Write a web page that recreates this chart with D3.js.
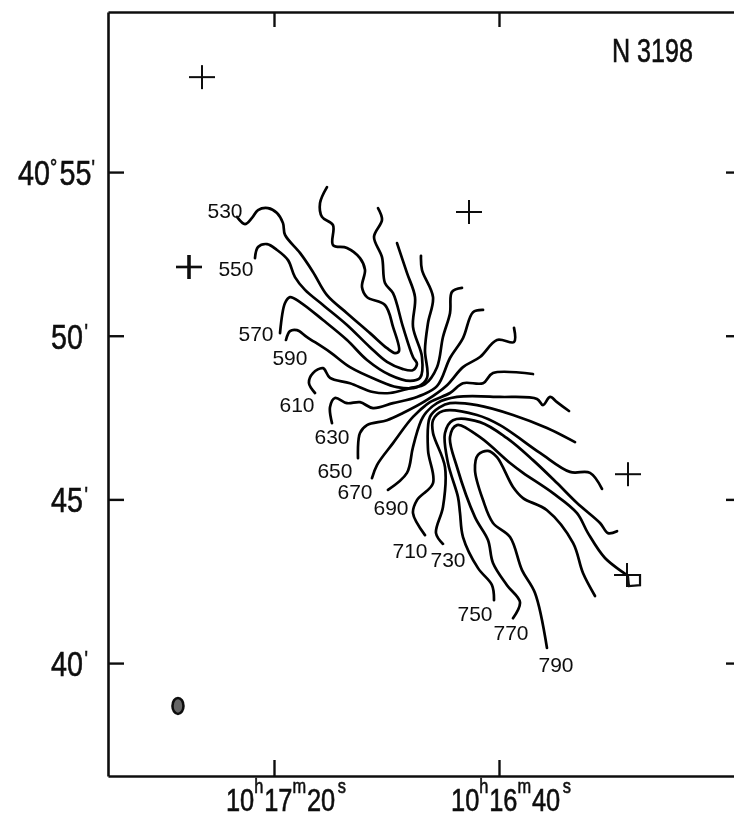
<!DOCTYPE html>
<html>
<head>
<meta charset="utf-8">
<script src="https://d3js.org/d3.v7.min.js"></script>
<style>
  html, body { margin: 0; background: #fff; }
  svg { display: block; }
  text { fill: #111; font-family: "Liberation Sans", sans-serif; }
  .level { font-size: 21px; }
</style>
</head>
<body>
<script>
// Each contour is a list of [RA seconds after 10h16m, Dec arcmin after 40 deg]
var contour530 = [[86.58,53.63],[85.16,53.41],[83.91,53.60],[82.84,53.84],[81.07,53.90],[79.47,53.75],[78.40,53.44],[78.04,53.08],[75.38,52.53],[73.07,51.95],[70.58,51.24],[67.02,50.69],[62.93,50.08],[59.91,49.62],[58.49,49.47],[57.78,49.53],[58.84,50.27],[60.27,50.94],[63.47,51.18],[64.36,51.49],[63.82,52.01],[64.71,52.37],[67.02,52.68],[69.51,52.77],[69.51,53.38],[71.47,53.63],[71.82,54.05],[70.58,54.54]];
var contour550 = [[83.38,52.37],[82.84,52.71],[81.24,52.80],[79.47,52.62],[77.51,52.31],[76.27,51.79],[74.49,51.40],[71.29,50.94],[67.02,50.33],[62.93,49.65],[59.91,49.20],[57.07,48.98],[55.29,48.95],[54.58,49.14],[55.29,49.35],[57.07,50.27],[58.84,51.30],[60.27,51.61],[60.80,52.40],[62.22,53.02],[60.80,53.54],[61.51,53.90]];
var contour570 = [[78.93,50.08],[78.04,51.00],[77.16,51.18],[75.38,51.03],[71.29,50.48],[67.02,49.87],[63.47,49.26],[59.38,48.80],[55.82,48.62],[54.04,48.71],[53.69,49.35],[55.29,50.27],[54.93,51.18],[56.36,51.92],[58.13,52.83]];
var contour590 = [[77.87,49.87],[77.16,50.14],[75.91,50.17],[74.13,49.96],[70.04,49.50],[66.49,49.04],[61.69,48.65],[58.13,48.43],[54.58,48.43],[52.80,48.71],[53.16,49.56],[52.62,50.39],[51.73,51.18],[53.69,52.01],[53.87,52.44]];
var contour610 = [[72.71,48.25],[73.78,48.55],[73.07,48.86],[71.29,49.01],[70.04,48.71],[66.49,48.55],[62.40,48.28],[59.38,48.25],[55.82,48.40],[53.16,48.52],[51.02,49.04],[49.96,49.96],[48.71,50.69],[48.36,51.34],[46.58,51.46]];
var contour630 = [[69.69,47.33],[70.04,47.82],[69.16,48.10],[67.02,47.94],[64.71,47.97],[62.40,47.79],[58.84,47.94],[54.58,48.13],[51.02,48.46],[48.71,49.32],[46.40,49.93],[44.62,50.72],[42.84,50.79]];
var contour650 = [[65.07,46.26],[64.71,47.03],[63.47,47.27],[59.91,47.42],[57.07,47.64],[52.80,48.04],[49.24,48.49],[46.40,49.04],[43.38,49.35],[40.36,49.87],[37.33,49.81],[37.33,50.24]];
var contour670 = [[62.58,45.65],[61.69,46.05],[58.84,46.72],[55.29,47.52],[52.27,47.97],[48.71,48.25],[46.40,48.55],[42.84,48.55],[41.07,48.86],[33.96,48.83]];
var contour690 = [[59.73,45.29],[56.36,45.81],[55.29,46.60],[53.51,47.52],[51.02,47.94],[47.47,48.13],[39.82,48.13],[33.24,48.07],[32.18,47.88],[30.93,48.13],[29.69,47.97],[27.56,47.70]];
var contour710 = [[53.16,43.91],[55.29,44.58],[54.58,44.98],[51.73,45.50],[52.62,46.51],[52.27,47.52],[50.49,47.82],[48.71,47.94],[43.91,47.88],[37.51,47.58],[31.47,47.18],[26.49,46.75]];
var contour730 = [[49.96,43.64],[51.20,43.97],[49.96,44.77],[49.60,45.99],[51.73,47.03],[51.73,47.42],[49.96,47.70],[43.91,47.58],[39.82,47.27],[32.71,46.42],[27.38,45.84],[23.82,45.81],[21.69,45.32]];
var contour750 = [[40.89,41.92],[41.24,42.38],[43.73,42.90],[46.40,43.85],[46.93,44.58],[47.29,45.07],[49.07,46.11],[49.60,47.03],[48.18,47.42],[43.38,47.36],[38.58,46.87],[33.96,46.20],[29.69,45.50],[26.13,44.89],[22.04,44.28],[20.62,43.97],[19.02,44.03]];
var contour770 = [[37.51,41.37],[36.27,41.86],[38.58,42.38],[41.07,43.06],[41.96,43.76],[44.27,44.46],[47.47,45.99],[48.71,46.90],[47.47,47.27],[43.38,46.90],[38.04,46.11],[35.73,45.81],[30.40,45.19],[26.13,44.58],[24.18,43.97],[21.16,43.21],[17.24,42.69]];
var contour790 = [[31.47,40.46],[33.60,42.14],[35.91,42.84],[38.04,43.85],[41.07,44.28],[42.84,44.98],[44.27,45.90],[43.73,46.36],[41.96,46.48],[40.36,46.29],[37.51,45.38],[35.73,45.04],[31.47,44.67],[26.84,43.67],[25.07,42.75],[22.93,42.05]];

var levels = [530, 550, 570, 590, 610, 630, 650, 670, 690, 710, 730, 750, 770, 790];
var contours = [contour530, contour550, contour570, contour590, contour610, contour630, contour650, contour670, contour690, contour710, contour730, contour750, contour770, contour790];
var levelLabelPos = [[88.71,53.84],[86.76,52.07],[83.20,50.08],[77.16,49.35],[75.91,47.91],[69.69,46.94],[69.16,45.90],[65.60,45.26],[59.20,44.77],[55.82,43.45],[49.07,43.18],[44.27,41.53],[37.87,40.95],[29.87,39.97]];

// reference stars
var stars = [[92.80,57.90],[95.11,52.10],[45.33,53.78],[17.07,45.77],[17.24,42.69]];
var starMark = [[14.93,42.72],[14.93,42.38],[16.89,42.35],[17.07,42.66]];
var beam = [97.07,38.69];

var raTicks = [80, 40];
var decTicks = [55, 50, 45, 40];
var raLabels = [["10","h","17","m","20","s"], ["10","h","16","m","40","s"]];
var decLabels = [["40","\u00b0","55","'"], ["50","'"], ["45","'"], ["40","'"]];
var title = "N 3198";

var width = 734, height = 818;
var left = 108, right = 742, top_ = 12, bottom = 776;
var squeeze = 0.82; // no condensed font is installed

var svg = d3.select("body").append("svg")
    .attr("width", width)
    .attr("height", height);

// soften everything a little, the original is a scan
svg.append("defs").append("filter").attr("id", "scan")
    .append("feGaussianBlur").attr("stdDeviation", 0.5);

var g = svg.append("g").attr("filter", "url(#scan)");

var x = d3.scaleLinear().domain([109.51, -3.2]).range([left, right]);
var y = d3.scaleLinear().domain([36.55, 59.89]).range([bottom, top_]);

// frame and ticks
function styleAxis(sel) {
    sel.selectAll("path").attr("stroke", "#111").attr("stroke-width", 2.6);
    sel.selectAll("line").attr("stroke", "#111").attr("stroke-width", 2.4);
    sel.selectAll("text").remove();
}
g.append("g").attr("transform", "translate(0," + bottom + ")")
    .call(d3.axisBottom(x).tickValues(raTicks).tickSize(-16).tickSizeOuter(0)).call(styleAxis);
g.append("g").attr("transform", "translate(0," + top_ + ")")
    .call(d3.axisTop(x).tickValues(raTicks).tickSize(-15).tickSizeOuter(0)).call(styleAxis);
g.append("g").attr("transform", "translate(" + left + ",0)")
    .call(d3.axisLeft(y).tickValues(decTicks).tickSize(-16).tickSizeOuter(0)).call(styleAxis);
g.append("g").attr("transform", "translate(" + right + ",0)")
    .call(d3.axisRight(y).tickValues(decTicks).tickSize(-16).tickSizeOuter(0)).call(styleAxis);

// velocity contours
var line = d3.line()
    .x(function(d) { return x(d[0]); })
    .y(function(d) { return y(d[1]); })
    .curve(d3.curveCatmullRom.alpha(0.5));

g.append("g").selectAll("path")
    .data(contours)
    .enter().append("path")
    .attr("d", line)
    .attr("fill", "none")
    .attr("stroke", "#000")
    .attr("stroke-width", 2.7)
    .attr("stroke-linecap", "round");

g.append("g").selectAll("text")
    .data(levels)
    .enter().append("text")
    .attr("class", "level")
    .attr("text-anchor", "middle")
    .attr("x", function(d, i) { return x(levelLabelPos[i][0]); })
    .attr("y", function(d, i) { return y(levelLabelPos[i][1]) + 8; })
    .text(function(d) { return d; });

// stars
var star = g.append("g").selectAll("g")
    .data(stars)
    .enter().append("g")
    .attr("transform", function(d) { return "translate(" + x(d[0]) + "," + y(d[1]) + ")"; });
star.append("line").attr("x1", -13).attr("x2", 13)
    .attr("stroke", "#111").attr("stroke-width", function(d, i) { return i == 1 ? 2.6 : 2; });
star.append("line").attr("y1", -12).attr("y2", 12)
    .attr("stroke", "#111").attr("stroke-width", function(d, i) { return i == 1 ? 3.6 : 2; });

g.append("path")
    .attr("d", d3.line().x(function(d) { return x(d[0]); }).y(function(d) { return y(d[1]); })(starMark))
    .attr("fill", "none").attr("stroke", "#111").attr("stroke-width", 2.2);

// beam
g.append("ellipse")
    .attr("cx", x(beam[0])).attr("cy", y(beam[1]))
    .attr("rx", 5.5).attr("ry", 8)
    .attr("fill", "#666").attr("stroke", "#111").attr("stroke-width", 2.6);

// one text per label, digits large and the h m s marks raised
function stackedLabel(px, py, parts, big, small, rise, gaps) {
    var t = g.append("text")
        .attr("transform", "translate(" + px + "," + py + ") scale(" + squeeze + ",1)")
        .attr("stroke", "#111")
        .attr("stroke-width", 0.6);
    parts.forEach(function(p, j) {
        var sup = j % 2 == 1;
        t.append("tspan")
            .attr("font-size", sup ? small : big)
            .attr("dx", gaps[j] || 0)
            .attr("dy", j == 0 ? 0 : (sup ? -rise : rise))
            .text(p);
    });
}

raLabels.forEach(function(parts, i) {
    stackedLabel(x(raTicks[i]) - 48, 811, parts, 31, 20, 18, [0, 0, 1, 0, 1, 3]);
});

decLabels.forEach(function(parts, i) {
    var px = parts.length == 4 ? 18 : 51;
    var gaps = parts.length == 4 ? [0, 0, 3, 0] : [0, 2];
    stackedLabel(px, y(decTicks[i]) + 13, parts, 35, 22, 10, gaps);
});

g.append("text")
    .attr("x", 612)
    .attr("y", 62)
    .attr("font-size", 34)
    .attr("textLength", 81)
    .attr("lengthAdjust", "spacingAndGlyphs")
    .attr("stroke", "#111")
    .attr("stroke-width", 0.6)
    .text(title);
</script>
</body>
</html>
